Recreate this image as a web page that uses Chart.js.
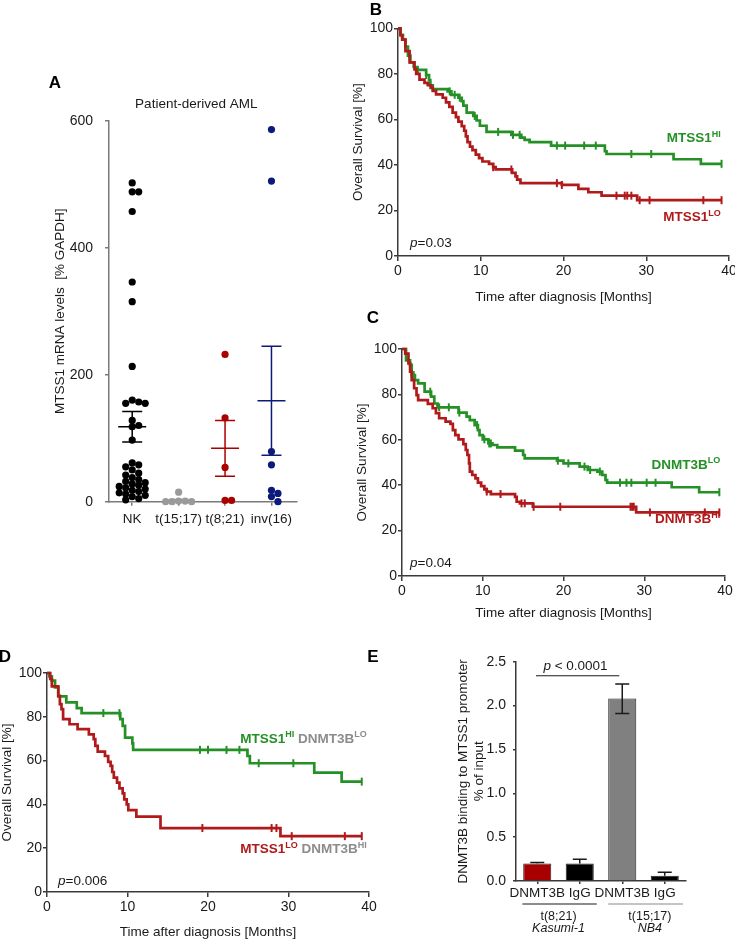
<!DOCTYPE html>
<html><head><meta charset="utf-8">
<script src="https://cdn.jsdelivr.net/npm/chart.js@4.4.1/dist/chart.umd.min.js"></script>
<style>
html,body{margin:0;padding:0;background:#fff;}
body{width:735px;height:940px;position:relative;overflow:hidden;}
canvas{position:absolute;}
</style></head><body>
<canvas id="cA"></canvas>
<canvas id="cB"></canvas>
<canvas id="cC"></canvas>
<canvas id="cD"></canvas>
<canvas id="cE"></canvas>
<script>
// ---------------- DATA ----------------
// Panel A: MTSS1 mRNA levels [% GAPDH]
const A_groups = ['NK', 't(15;17)', 't(8;21)', 'inv(16)'];
const A_NK = [502, 488, 488, 457, 346, 315, 213, 160, 157, 155, 155, 128, 120, 118, 97,
              61, 58, 55, 50, 45, 42, 38, 35, 32, 30, 28, 26, 24, 22, 20, 18, 16, 14, 12, 10, 8, 5, 3];
const A_t1517 = [15, 1, 1, 0, 0, 0];
const A_t821 = [232, 132, 54, 2, 2];
const A_inv16 = [586, 505, 79, 58, 18, 13, 8, 0];
const A_mean = [118, 2, 84, 159];
const A_sem = [24, 1.5, 44, 86];

// Panel B: MTSS1 HI / LO (Kaplan-Meier)
const B_hi_t = [0, 0.3, 0.6, 0.9, 1.2, 1.5, 1.9, 2.3, 3.4, 3.75, 3.9, 4.2, 6.0, 6.45, 7.3, 7.7, 7.9, 8.3, 9.1, 9.5, 9.9, 10.7, 13.7, 14.9, 15.3, 15.9, 18.5, 25.0, 25.2, 33.3, 36.6, 39.1];
const B_hi_s = [100, 97, 95, 92, 88, 85, 83, 81.7, 79.5, 77.3, 75, 73.3, 72.3, 70.8, 69.5, 68, 66, 63, 61.5, 59.5, 57.2, 54.5, 53.2, 52, 51, 50, 48.5, 46, 44.8, 42.5, 40.5, 40.5];
const B_hi_c = [1.4, 2.4, 3.4, 3.9, 6.25, 6.85, 7.46, 9.27, 12.1, 13.9, 14.7, 19.2, 20.2, 22.5, 23.9, 28.2, 30.6, 39.1];
const B_lo_t = [0, 0.3, 0.5, 0.9, 1.4, 2.0, 2.2, 2.6, 3.2, 3.6, 4.0, 4.2, 4.6, 5.4, 5.8, 6.2, 6.6, 7.0, 7.3, 7.7, 8.0, 8.2, 8.4, 8.7, 9.0, 9.4, 9.8, 10.2, 11.0, 11.5, 11.8, 13.8, 14.2, 14.4, 14.8, 19.8, 21.8, 23.0, 24.6, 28.9, 39.1];
const B_lo_s = [100, 97, 95, 90, 85, 82, 80, 77.5, 76, 75, 74, 72.5, 71, 69.5, 67.5, 65.5, 63, 61, 59, 57, 55, 52.5, 50, 48, 46.5, 44.5, 43, 41.5, 40.5, 39, 38, 36.5, 35, 33.5, 32, 31.2, 29.5, 28, 26.5, 24.5, 24.5];
const B_lo_c = [11.5, 13.7, 19.2, 19.8, 26.4, 27.4, 27.7, 28.2, 29.2, 30.4, 36.9, 39.1];

// Panel C: DNMT3B LO / HI
const C_lo_t = [0, 0.5, 1.0, 1.2, 1.6, 2.0, 2.8, 3.6, 4.0, 4.4, 7.0, 8.0, 8.4, 9.0, 9.4, 9.6, 10.0, 10.7, 11.2, 11.8, 14.0, 15.0, 15.2, 19.2, 20.0, 22.0, 23.0, 24.2, 24.8, 25.2, 25.4, 33.4, 36.8, 39.3];
const C_lo_s = [100, 95, 93, 88.5, 86.3, 84.9, 81.2, 79, 76, 74.3, 72, 70.2, 68.7, 66.5, 64.3, 62.1, 60.2, 58.4, 57.7, 56.7, 55.2, 53.3, 51.8, 50.8, 49.6, 48.2, 46.7, 46, 44.5, 42.3, 41.1, 39.1, 36.9, 36.9];
const C_lo_c = [1.45, 3.5, 4.6, 5.8, 7.1, 9.3, 10.2, 10.8, 11.0, 19.3, 20.6, 22.6, 23.3, 24.5, 27.0, 27.8, 28.4, 30.3, 31.4, 39.3];
const C_hi_t = [0, 0.4, 0.8, 1.0, 1.2, 1.5, 1.8, 2.0, 3.2, 3.8, 4.2, 4.6, 5.4, 6.0, 6.3, 6.6, 7.0, 7.6, 7.9, 8.1, 8.3, 8.4, 8.7, 9.1, 9.4, 9.8, 10.2, 10.5, 11.0, 14.0, 14.2, 14.6, 16.2, 29.0, 39.3];
const C_hi_s = [100, 98, 93.7, 90, 86.3, 82.7, 79.7, 77.5, 75.8, 73.9, 71.7, 69.5, 68, 67, 64.3, 62.1, 60.2, 58.1, 55.5, 53.3, 49.6, 46, 44.5, 43, 41.1, 39.6, 38.2, 37.2, 36.1, 34.9, 32.7, 32, 30.5, 28, 28];
const C_hi_c = [10.5, 12.2, 14.8, 15.2, 16.3, 19.6, 28.3, 28.5, 28.7, 30.7, 37.5, 39.3];

// Panel D: MTSS1 HI DNMT3B LO / MTSS1 LO DNMT3B HI
const D_g_t = [0, 0.3, 0.6, 1.0, 1.4, 2.4, 3.7, 4.3, 9.1, 9.4, 9.7, 10.6, 10.7, 24.9, 25.2, 33.2, 36.6, 39.1];
const D_g_s = [100, 98.5, 96.5, 93.4, 89.3, 86.6, 84, 81.7, 78.9, 75.9, 70.5, 67.9, 64.9, 62.1, 58.8, 54.5, 50.4, 50.4];
const D_g_c = [7.0, 9.0, 19.0, 20.0, 22.3, 23.9, 26.3, 30.6, 39.1];
const D_r_t = [0, 0.4, 0.6, 1.4, 1.6, 1.8, 2.0, 2.8, 3.8, 5.2, 5.8, 6.0, 6.3, 7.2, 7.6, 7.9, 8.1, 8.3, 8.7, 9.0, 9.4, 9.6, 9.9, 10.1, 11.1, 14.1, 29.0, 39.1];
const D_r_s = [100, 97.3, 93.9, 89.6, 85.8, 83.5, 78.9, 76.6, 74.4, 72, 69.8, 66.7, 64.1, 62.1, 59.4, 57.6, 54.8, 52.2, 49.9, 47.3, 45, 42.3, 40, 37.4, 34.4, 29.2, 25.5, 25.5];
const D_r_c = [19.3, 27.9, 28.5, 30.4, 37.0, 39.1];

// Panel E: ChIP, DNMT3B binding to MTSS1 promoter (% of input)
const E_labels = ['DNMT3B', 'IgG', 'DNMT3B', 'IgG'];
const E_values = [0.20, 0.20, 2.08, 0.06];
const E_errUp = [0.01, 0.047, 0.165, 0.04];
const E_errDown = [0, 0, 0.17, 0];
const E_groups = [['t(8;21)', 'Kasumi-1'], ['t(15;17)', 'NB4']];

// ---------------- STYLE ----------------
const FF = "'Liberation Sans', Arial, Helvetica, sans-serif";
Chart.defaults.font.family = FF;
Chart.defaults.color = '#1a1a1a';
Chart.defaults.animation = false;
Chart.defaults.plugins.legend.display = false;
Chart.defaults.plugins.tooltip.enabled = false;

const GREEN = '#259025', RED = '#b01a1a', GREY_T = '#8c8c8c';
const A_colors = ['#000000', '#9a9a9a', '#aa0000', '#0c1a7a'];
const E_colors = ['#a80000', '#000000', '#808080', '#000000'];
const AX = '#3a3a3a';

function mk(id, box, area, cfg) {
  const c = document.getElementById(id);
  c.width = box.w; c.height = box.h;
  c.style.left = box.x + 'px'; c.style.top = box.y + 'px';
  const yw = area.l - box.x, xh = box.y + box.h - area.b;
  cfg.options.responsive = false;
  cfg.options.maintainAspectRatio = false;
  cfg.options.layout = {autoPadding: false, padding: {left: 0, top: area.t - box.y, right: box.x + box.w - area.r, bottom: 0}};
  cfg.options.scales.x.afterFit = s => { s.height = xh; };
  cfg.options.scales.y.afterFit = s => { s.width = yw; };
  return new Chart(c, cfg);
}

function drawRich(ctx, x, y, parts, align) {
  ctx.save();
  ctx.textBaseline = 'middle'; ctx.textAlign = 'left';
  let w = 0;
  parts.forEach(p => { ctx.font = p.f; w += ctx.measureText(p.t).width; });
  let cx = align === 'right' ? x - w : (align === 'center' ? x - w / 2 : x);
  parts.forEach(p => {
    ctx.font = p.f; ctx.fillStyle = p.c || '#1a1a1a';
    ctx.fillText(p.t, cx, y + (p.dy || 0));
    cx += ctx.measureText(p.t).width;
  });
  ctx.restore();
}
const fB = s => 'bold ' + s + 'px ' + FF;
const fR = s => s + 'px ' + FF;
const fI = s => 'italic ' + s + 'px ' + FF;
const sup = (t, c) => ({t, f: fB(9), c, dy: -4});
const pText = (v) => [{t: 'p', f: fI(13.5)}, {t: '=' + v, f: fR(13.5)}];

function survAt(ts, ss, c) { let v = ss[0]; for (let i = 0; i < ts.length; i++) { if (ts[i] <= c) v = ss[i]; } return v; }
function kmSets(ts, ss, cens, color) {
  return [
    {data: ts.map((t, i) => ({x: t, y: ss[i]})), showLine: true, stepped: 'before', borderColor: color, borderWidth: 2.7, pointRadius: 0, fill: false, clip: false},
    {data: cens.map(c => ({x: c, y: survAt(ts, ss, c)})), showLine: false, pointStyle: 'line', pointRotation: 90, pointRadius: 4, pointBorderColor: color, pointBackgroundColor: color, pointBorderWidth: 2, clip: false}
  ];
}
function kmScales(yTitlePad, xTitlePad) {
  return {
    x: {type: 'linear', min: 0, max: 40,
        ticks: {stepSize: 10, font: {size: 14}, padding: 2, color: '#1a1a1a', maxRotation: 0},
        grid: {drawOnChartArea: false, tickLength: 5, color: AX, lineWidth: 1.5},
        border: {color: AX, width: 1.5},
        title: {display: true, text: 'Time after diagnosis [Months]', font: {size: 13.5, lineHeight: 1.2}, padding: {top: 0, bottom: xTitlePad}, color: '#1a1a1a'}},
    y: {type: 'linear', min: 0, max: 100,
        ticks: {stepSize: 20, font: {size: 14}, padding: 1, color: '#1a1a1a'},
        grid: {drawOnChartArea: false, tickLength: 4, color: AX, lineWidth: 1.5},
        border: {color: AX, width: 1.5},
        title: {display: true, text: 'Overall Survival [%]', font: {size: 13.5, lineHeight: 1.2}, padding: {top: yTitlePad, bottom: 0}, color: '#1a1a1a'}}
  };
}
function letter(ctx, t, x, y) { drawRich(ctx, x, y, [{t, f: fB(17), c: '#000'}], 'center'); }

// ---------------- PANEL A ----------------
const A_values = [A_NK, A_t1517, A_t821, A_inv16];
const chartA = mk('cA', {x: 0, y: 60, w: 320, h: 480}, {l: 109, t: 120.7, r: 297, b: 501.7}, {
  type: 'scatter',
  data: {datasets: A_values.map((vals, i) => ({
    label: A_groups[i],
    data: vals.map(v => ({x: i + 1, y: v})),
    pointRadius: 3.6, pointBackgroundColor: A_colors[i], pointBorderWidth: 0, clip: false
  }))},
  options: {
    scales: {
      x: {type: 'linear', min: 0.5, max: 4.55,
          afterBuildTicks: s => { s.ticks = A_groups.map((g, i) => ({value: i + 1})); },
          ticks: {callback: v => A_groups[v - 1], font: {size: 13.5}, padding: 5, color: '#1a1a1a', maxRotation: 0, autoSkip: false},
          grid: {drawOnChartArea: false, tickLength: 4, color: '#7a7a7a', lineWidth: 1.5},
          border: {color: '#7a7a7a', width: 1.5}},
      y: {type: 'linear', min: 0, max: 600,
          ticks: {stepSize: 200, font: {size: 14}, padding: 12, color: '#1a1a1a'},
          grid: {drawOnChartArea: false, tickLength: 4, color: '#7a7a7a', lineWidth: 1.5},
          border: {color: '#7a7a7a', width: 1.5},
          title: {display: true, text: 'MTSS1 mRNA levels  [% GAPDH]', font: {size: 13.5, lineHeight: 1.2}, padding: {top: 52, bottom: 0}, color: '#1a1a1a'}}
    }
  },
  plugins: [{
    id: 'annA',
    afterDatasetsDraw(chart) {
      const {ctx, scales: {x, y}} = chart;
      ctx.save();
      ctx.lineWidth = 1.5;
      A_mean.forEach((m, i) => {
        const px = x.getPixelForValue(i + 1);
        const ym = y.getPixelForValue(m), yu = y.getPixelForValue(m + A_sem[i]), yl = y.getPixelForValue(Math.max(0, m - A_sem[i]));
        ctx.strokeStyle = A_colors[i];
        ctx.beginPath();
        ctx.moveTo(px - 14, ym); ctx.lineTo(px + 14, ym);
        ctx.moveTo(px, yu); ctx.lineTo(px, yl);
        ctx.moveTo(px - 10, yu); ctx.lineTo(px + 10, yu);
        ctx.moveTo(px - 10, yl); ctx.lineTo(px + 10, yl);
        ctx.stroke();
      });
      ctx.restore();
    },
    afterDraw(chart) {
      const {ctx, scales: {x, y}} = chart;
      drawRich(ctx, x.getPixelForValue(2.38), y.getPixelForValue(600) - 16, [{t: 'Patient-derived AML', f: fR(13.5)}], 'center');
      letter(ctx, 'A', 55, 23);
    }
  }]
});
// beeswarm spread of the dots, computed from the library's own scales
(function swarm(chart) {
  const xs = chart.scales.x, ys = chart.scales.y;
  const pxPerX = xs.getPixelForValue(2) - xs.getPixelForValue(1);
  const step = 6.5, minGap = 5.2;
  chart.data.datasets.forEach((ds, gi) => {
    const vals = A_values[gi];
    const order = vals.map((v, i) => i).sort((a, b) => vals[b] - vals[a]);
    const placed = [], out = new Array(vals.length);
    order.forEach(idx => {
      const py = ys.getPixelForValue(vals[idx]);
      for (let k = 0; k < 60; k++) {
        const off = (k === 0 ? 0 : (k % 2 ? Math.ceil(k / 2) : -Math.ceil(k / 2))) * step;
        if (placed.every(p => p.off !== off || Math.abs(p.py - py) >= minGap)) {
          placed.push({off, py});
          out[idx] = {x: gi + 1 + off / pxPerX, y: vals[idx]};
          break;
        }
      }
    });
    ds.data = out;
  });
  chart.update('none');
})(chartA);

// ---------------- PANEL B ----------------
mk('cB', {x: 330, y: 0, w: 420, h: 310}, {l: 398, t: 28.3, r: 729, b: 256}, {
  type: 'scatter',
  data: {datasets: [...kmSets(B_lo_t, B_lo_s, B_lo_c, RED), ...kmSets(B_hi_t, B_hi_s, B_hi_c, GREEN)]},
  options: {scales: kmScales(20, 5)},
  plugins: [{id: 'annB', afterDraw(chart) {
    const {ctx, scales: {x, y}} = chart;
    drawRich(ctx, x.getPixelForValue(39.0), y.getPixelForValue(51.8), [{t: 'MTSS1', f: fB(13.5), c: GREEN}, sup('HI', GREEN)], 'right');
    drawRich(ctx, x.getPixelForValue(39.0), y.getPixelForValue(17.1), [{t: 'MTSS1', f: fB(13.5), c: RED}, sup('LO', RED)], 'right');
    drawRich(ctx, x.getPixelForValue(1.45), y.getPixelForValue(5.7), pText('0.03'), 'left');
    letter(ctx, 'B', 46, 10);
  }}]
});

// ---------------- PANEL C ----------------
mk('cC', {x: 330, y: 300, w: 420, h: 325}, {l: 402, t: 349, r: 725, b: 576}, {
  type: 'scatter',
  data: {datasets: [...kmSets(C_hi_t, C_hi_s, C_hi_c, RED), ...kmSets(C_lo_t, C_lo_s, C_lo_c, GREEN)]},
  options: {scales: kmScales(24, 4)},
  plugins: [{id: 'annC', afterDraw(chart) {
    const {ctx, scales: {x, y}} = chart;
    drawRich(ctx, x.getPixelForValue(39.4), y.getPixelForValue(48.9), [{t: 'DNMT3B', f: fB(13.5), c: GREEN}, sup('LO', GREEN)], 'right');
    drawRich(ctx, x.getPixelForValue(39.4), y.getPixelForValue(25.1), [{t: 'DNMT3B', f: fB(13.5), c: RED}, sup('HI', RED)], 'right');
    drawRich(ctx, x.getPixelForValue(1.0), y.getPixelForValue(5.7), pText('0.04'), 'left');
    letter(ctx, 'C', 43, 18);
  }}]
});

// ---------------- PANEL D ----------------
mk('cD', {x: -6, y: 630, w: 392, h: 310}, {l: 47, t: 673, r: 369, b: 892}, {
  type: 'scatter',
  data: {datasets: [...kmSets(D_r_t, D_r_s, D_r_c, RED), ...kmSets(D_g_t, D_g_s, D_g_c, GREEN)]},
  options: {scales: kmScales(5, 0)},
  plugins: [{id: 'annD', afterDraw(chart) {
    const {ctx, scales: {x, y}} = chart;
    drawRich(ctx, x.getPixelForValue(24.0), y.getPixelForValue(69.9),
      [{t: 'MTSS1', f: fB(13.5), c: GREEN}, sup('HI', GREEN), {t: ' DNMT3B', f: fB(13.5), c: GREY_T}, sup('LO', GREY_T)], 'left');
    drawRich(ctx, x.getPixelForValue(24.0), y.getPixelForValue(19.6),
      [{t: 'MTSS1', f: fB(13.5), c: RED}, sup('LO', RED), {t: ' DNMT3B', f: fB(13.5), c: GREY_T}, sup('HI', GREY_T)], 'left');
    drawRich(ctx, x.getPixelForValue(1.37), y.getPixelForValue(5.0), pText('0.006'), 'left');
    letter(ctx, 'D', 11, 27);
  }}]
});

// ---------------- PANEL E ----------------
mk('cE', {x: 360, y: 640, w: 375, h: 300}, {l: 516, t: 661.7, r: 686, b: 881}, {
  type: 'bar',
  data: {labels: E_labels, datasets: [{
    data: E_values, backgroundColor: E_colors, borderColor: '#222', borderWidth: 1,
    barPercentage: 0.66, categoryPercentage: 1
  }]},
  options: {
    scales: {
      x: {type: 'category', offset: true,
          ticks: {font: {size: 13.5}, padding: 1, color: '#1a1a1a', maxRotation: 0, autoSkip: false},
          grid: {offset: false, drawOnChartArea: false, tickLength: 3, color: AX, lineWidth: 1.5},
          border: {color: AX, width: 1.5}},
      y: {type: 'linear', min: 0, max: 2.5,
          ticks: {stepSize: 0.5, callback: v => v.toFixed(1), font: {size: 14}, padding: 7, color: '#1a1a1a'},
          grid: {drawOnChartArea: false, tickLength: 3, color: AX, lineWidth: 1.5},
          border: {color: AX, width: 1.5},
          title: {display: true, text: ['DNMT3B binding to MTSS1 promoter', '% of input'], font: {size: 13.5, lineHeight: 1.2}, padding: {top: 95, bottom: 0}, color: '#1a1a1a'}}
    }
  },
  plugins: [{id: 'annE', afterDraw(chart) {
    const {ctx, scales: {x, y}} = chart;
    const meta = chart.getDatasetMeta(0);
    ctx.save();
    ctx.strokeStyle = '#1a1a1a'; ctx.lineWidth = 1.5;
    E_values.forEach((v, i) => {
      const px = meta.data[i].x;
      const yu = y.getPixelForValue(v + E_errUp[i]);
      const yl = y.getPixelForValue(v - E_errDown[i]);
      ctx.beginPath();
      ctx.moveTo(px, yl); ctx.lineTo(px, yu);
      ctx.moveTo(px - 7, yu); ctx.lineTo(px + 7, yu);
      if (E_errDown[i] > 0) { ctx.moveTo(px - 7, yl); ctx.lineTo(px + 7, yl); }
      ctx.stroke();
    });
    // significance bracket
    const yb = y.getPixelForValue(2.34);
    ctx.lineWidth = 1.2;
    ctx.beginPath(); ctx.moveTo(x.getPixelForValue(-0.03), yb); ctx.lineTo(x.getPixelForValue(1.93), yb); ctx.stroke();
    drawRich(ctx, x.getPixelForValue(0.9), y.getPixelForValue(2.45), [{t: 'p', f: fI(13.5)}, {t: ' < 0.0001', f: fR(13.5)}], 'center');
    // cell-line groups
    const yLine = chart.chartArea.bottom + 23;
    ctx.lineWidth = 1.2;
    ctx.strokeStyle = '#1a1a1a';
    ctx.beginPath(); ctx.moveTo(x.getPixelForValue(-0.35), yLine); ctx.lineTo(x.getPixelForValue(1.4), yLine); ctx.stroke();
    ctx.strokeStyle = '#8a8a8a';
    ctx.beginPath(); ctx.moveTo(x.getPixelForValue(1.67), yLine); ctx.lineTo(x.getPixelForValue(3.43), yLine); ctx.stroke();
    ctx.restore();
    [[0.5, E_groups[0]], [2.65, E_groups[1]]].forEach(([pos, g]) => {
      drawRich(ctx, x.getPixelForValue(pos), yLine + 13, [{t: g[0], f: fR(12.5)}], 'center');
      drawRich(ctx, x.getPixelForValue(pos), yLine + 25, [{t: g[1], f: fI(12.5)}], 'center');
    });
    letter(ctx, 'E', 13, 17);
  }}]
});
</script>
</body></html>
